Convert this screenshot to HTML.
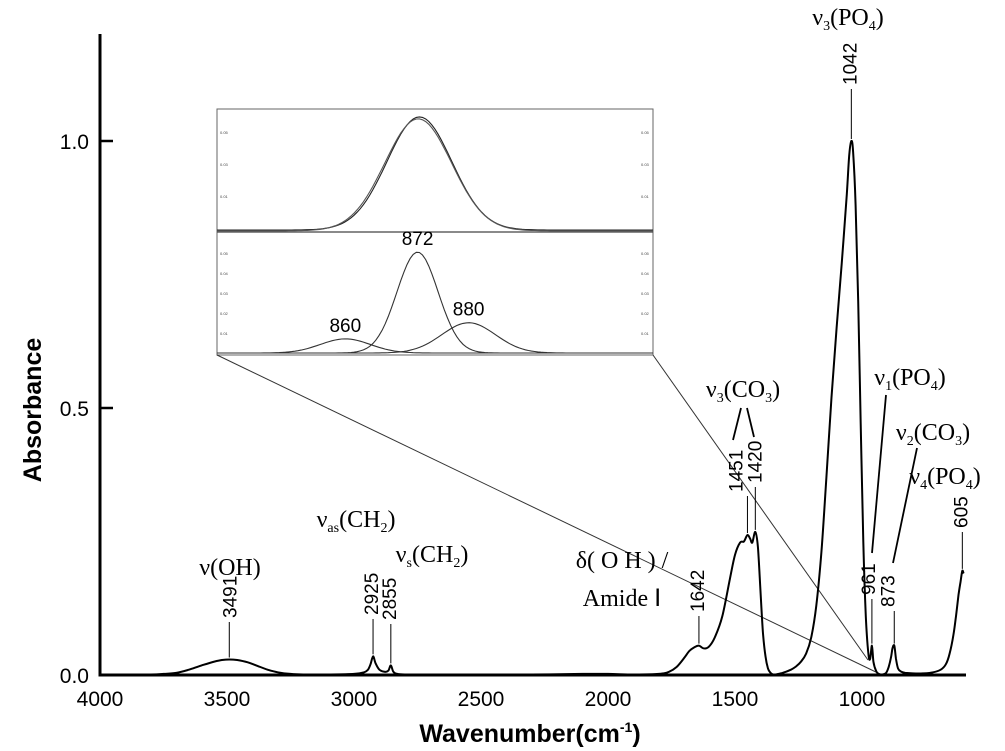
<!DOCTYPE html>
<html><head><meta charset="utf-8">
<style>
html,body{margin:0;padding:0;background:#fff;}
svg{display:block;}
.tk{font-family:"Liberation Sans",Arial,sans-serif;font-size:21px;fill:#000;}
.ann{font-family:"Liberation Serif","Times New Roman",serif;font-size:24px;fill:#000;}
.num{font-family:"Liberation Sans",Arial,sans-serif;font-size:19px;fill:#000;}
.ax{font-family:"Liberation Sans",Arial,sans-serif;font-size:25px;font-weight:bold;fill:#000;}
.tiny{font-family:"Liberation Sans",Arial,sans-serif;font-size:4px;fill:#444;}
</style></head>
<body>
<svg id="chart" width="1005" height="751" viewBox="0 0 1005 751" xmlns="http://www.w3.org/2000/svg">
<g id="inset"></g>
<g id="spec"></g>
<g id="axes"></g>
<g id="anns"></g>
</svg>
<script>
// ---- main spectrum data ----
const wavenumbers = [4000,3900,3800,3750,3700,3650,3600,3550,3520,3491,3460,3420,3380,3340,3300,3250,3200,3100,3000,2960,2945,2935,2925,2915,2900,2880,2865,2855,2845,2830,2800,2700,2500,2300,2100,2000,1900,1800,1760,1730,1700,1680,1660,1642,1625,1605,1580,1550,1520,1500,1480,1465,1451,1440,1432,1420,1410,1400,1390,1380,1370,1360,1350,1340,1320,1300,1280,1260,1240,1220,1200,1180,1160,1140,1120,1100,1080,1060,1050,1042,1035,1025,1015,1005,995,985,975,968,961,955,945,935,920,905,895,885,880,873,866,858,845,830,800,760,720,690,670,655,640,630,620,612,605,600];
const absorbance = [0.001,0.001,0.001,0.002,0.004,0.010,0.018,0.025,0.028,0.029,0.028,0.024,0.017,0.010,0.005,0.002,0.001,0.001,0.002,0.005,0.010,0.020,0.035,0.022,0.010,0.006,0.008,0.018,0.006,0.002,0.001,0.001,0.001,0.001,0.002,0.002,0.001,0.002,0.006,0.015,0.032,0.045,0.052,0.055,0.050,0.052,0.070,0.110,0.180,0.225,0.248,0.250,0.262,0.255,0.248,0.268,0.240,0.160,0.080,0.035,0.012,0.004,0.001,0.001,0.003,0.006,0.010,0.016,0.025,0.040,0.070,0.130,0.230,0.370,0.520,0.650,0.770,0.900,0.975,1.000,0.980,0.880,0.700,0.470,0.250,0.110,0.040,0.030,0.055,0.025,0.008,0.002,0.001,0.004,0.015,0.035,0.050,0.055,0.030,0.012,0.006,0.004,0.003,0.003,0.005,0.010,0.020,0.040,0.075,0.110,0.150,0.175,0.195,0.190];
// ---- ticks ----
const xTicks = [4000,3500,3000,2500,2000,1500,1000];
const yTicks = [0.0,0.5,1.0];
const yTickLabels = ["0.0","0.5","1.0"];
// ---- peak annotations ----
const peakLabels = ["3491","2925","2855","1642","1451","1420","1042","961","873","605"];
const peakWn = [3491,2925,2855,1642,1451,1420,1042,961,873,605];
// ---- inset deconvolution data (component peaks) ----
const insetPeakNames = ["860","872","880"];
const insetCenters = [860.6,872.2,880.4];
const insetHeights = [0.007,0.050,0.015];
const insetWidths = [4.0,3.3,4.3];
const insetTotalCenter = 872.5;
const insetTotalHeight = 0.058;
const insetTotalWidth = 5.2;

// label layout (pixel placement, not data): [text center x offset, text bottom y]
const labelLayout = [[0,618],[-2,615],[-2,620],[-2,612],[-12,492],[-1,483],[-2,85],[-4,595],[-7,607],[-2,528]];

const NS="http://www.w3.org/2000/svg";
function mk(tag,attrs,parent){const e=document.createElementNS(NS,tag);for(const k in attrs)e.setAttribute(k,attrs[k]);parent.appendChild(e);return e;}
const X=w=>100+(4000-w)*0.254;
const Y=a=>675-a*534;

const spec=document.getElementById('spec');
const pts=wavenumbers.map((w,i)=>[X(w),Y(absorbance[i])]);
let d="M"+pts[0][0].toFixed(1)+","+pts[0][1].toFixed(1);
for(let i=0;i<pts.length-1;i++){
 const p0=pts[Math.max(0,i-1)],p1=pts[i],p2=pts[i+1],p3=pts[Math.min(pts.length-1,i+2)];
 const c1=[p1[0]+(p2[0]-p0[0])/6,p1[1]+(p2[1]-p0[1])/6];
 const c2=[p2[0]-(p3[0]-p1[0])/6,p2[1]-(p3[1]-p1[1])/6];
 d+=` C${c1[0].toFixed(1)},${c1[1].toFixed(1)} ${c2[0].toFixed(1)},${c2[1].toFixed(1)} ${p2[0].toFixed(1)},${p2[1].toFixed(1)}`;
}
const sp=mk('path',{d:d,fill:'none',stroke:'#000','stroke-width':2},spec);



const axes=document.getElementById('axes');
const ya=mk('line',{x1:100,y1:34,x2:100,y2:676.5,stroke:'#000','stroke-width':3},axes);


const xa=mk('line',{x1:98.5,y1:675,x2:966,y2:675,stroke:'#000','stroke-width':3},axes);


xTicks.forEach(t=>{
 const tx=mk('text',{x:X(t),y:706,'text-anchor':'middle',class:'tk'},axes);tx.textContent=t;
 
 
});
yTicks.forEach((t,i)=>{
 if(t>0){const l=mk('line',{x1:100,y1:Y(t),x2:113,y2:Y(t),stroke:'#000','stroke-width':2.5},axes);
 
 }
 const tx=mk('text',{x:89,y:Y(t)+8,'text-anchor':'end',class:'tk'},axes);tx.textContent=yTickLabels[i];
 
 
});
const yt=mk('text',{x:0,y:0,'text-anchor':'middle',class:'ax',transform:'translate(41,410) rotate(-90)'},axes);yt.textContent='Absorbance';
yt.setAttribute('font-size','28');


const xt=mk('text',{x:530,y:742,'text-anchor':'middle',class:'ax'},axes);
xt.innerHTML='Wavenumber(cm<tspan dy="-10" font-size="14">-1</tspan><tspan dy="10">)</tspan>';



const anns=document.getElementById('anns');
const absAt=w=>{for(let i=0;i<wavenumbers.length-1;i++){if(w<=wavenumbers[i]&&w>=wavenumbers[i+1]){const f=(wavenumbers[i]-w)/(wavenumbers[i]-wavenumbers[i+1]);return absorbance[i]+f*(absorbance[i+1]-absorbance[i]);}}return 0;};
peakLabels.forEach((lab,i)=>{
 const x=X(peakWn[i]);const yb=Y(absAt(peakWn[i]))-2;
 const lx=labelLayout[i],tb=lx[1];
 const l=mk('line',{x1:x,y1:yb,x2:x,y2:tb+4,stroke:'#000','stroke-width':1},anns);
 
 
 const t=mk('text',{x:0,y:0,class:'num',transform:`translate(${x+lx[0]+7},${tb}) rotate(-90)`},anns);t.textContent=lab;
 
 
});
function ann(html,x,y,name){const t=mk('text',{x:x,y:y,'text-anchor':'middle',class:'ann'},anns);t.innerHTML=html;
 
 }
const sub=s=>`<tspan dy="5" font-size="14">${s}</tspan><tspan dy="-5">`;
ann('ν(OH)',230,575,'band-label-oh');
ann('ν'+sub('as')+'(CH'+sub('2')+')</tspan></tspan>',356,527,'band-label-vas-ch2');
ann('ν'+sub('s')+'(CH'+sub('2')+')</tspan></tspan>',432,562,'band-label-vs-ch2');
ann('δ( O H ) /',622,568,'band-label-delta-oh');
ann('Amide Ⅰ',622,606,'band-label-amide');
ann('ν'+sub('3')+'(CO'+sub('3')+')</tspan></tspan>',743,397,'band-label-v3-co3');
ann('ν'+sub('3')+'(PO'+sub('4')+')</tspan></tspan>',848,25,'band-label-v3-po4');
ann('ν'+sub('1')+'(PO'+sub('4')+')</tspan></tspan>',910,385,'band-label-v1-po4');
ann('ν'+sub('2')+'(CO'+sub('3')+')</tspan></tspan>',933,440,'band-label-v2-co3');
ann('ν'+sub('4')+'(PO'+sub('4')+')</tspan></tspan>',945,484,'band-label-v4-po4');
[[741,408,733,440],[747,408,754,437],[886,395,872,553],[917,448,893,563]].forEach(c=>{
 const l=mk('line',{x1:c[0],y1:c[1],x2:c[2],y2:c[3],stroke:'#000','stroke-width':1.8},anns);
 
 
});

const inset=document.getElementById('inset');
const IL=217,IR=653,IT=109,IM=232,IB=355;
const bx=mk('rect',{x:IL,y:IT,width:IR-IL,height:IB-IT,fill:'#fff',stroke:'#666','stroke-width':1},inset);


const dv=mk('line',{x1:IL,y1:IM,x2:IR,y2:IM,stroke:'#444','stroke-width':1.2},inset);


[[IL,IB,880,674],[IR,IB,868,660]].forEach(c=>{
 const l=mk('line',{x1:c[0],y1:c[1],x2:c[2],y2:c[3],stroke:'#333','stroke-width':1},inset);
 
 
});
const IX=w=>IL+(w-840)*(IR-IL)/(910-840);
const IYt=a=>IM-2-a*(IM-IT-6)/0.06;
const IYb=a=>IB-2-a*(IB-IM-10)/0.056;
const gauss=(w,c,h,s)=>h*Math.exp(-0.5*((w-c)/s)**2);
function curve(fn,Yf,name,col,off){let p="";for(let w=840;w<=910;w+=0.5){p+=(p?"L":"M")+IX(w).toFixed(1)+","+(Yf(fn(w))+off).toFixed(1);}
 const e=mk('path',{d:p,fill:'none',stroke:col,'stroke-width':1.1},inset);
 
 }
curve(w=>gauss(w,insetTotalCenter,insetTotalHeight,insetTotalWidth),IYt,'inset-measured-curve','#222',0);
curve(w=>gauss(w,insetTotalCenter-0.2,insetTotalHeight*0.99,insetTotalWidth*1.03),IYt,'inset-fit-curve','#555',0.8);
insetCenters.forEach((c,i)=>{
 curve(w=>gauss(w,c,insetHeights[i],insetWidths[i]),IYb,'inset-component-'+insetPeakNames[i],'#333',0);
 const t=mk('text',{x:IX(c),y:IYb(insetHeights[i])-7,'text-anchor':'middle',class:'num'},inset);t.textContent=insetPeakNames[i];
 t.setAttribute('font-size','18');
 
 
});
["0.05","0.03","0.01"].forEach((s,i)=>{[IL+3,IR-12].forEach(x=>{const t=mk('text',{x:x,y:IT+25+i*32,class:'tiny'},inset);t.textContent=s;
 
 });});
["0.05","0.04","0.03","0.02","0.01"].forEach((s,i)=>{[IL+3,IR-12].forEach(x=>{const t=mk('text',{x:x,y:IM+23+i*20,class:'tiny'},inset);t.textContent=s;
 
 });});
</script>
</body></html>
